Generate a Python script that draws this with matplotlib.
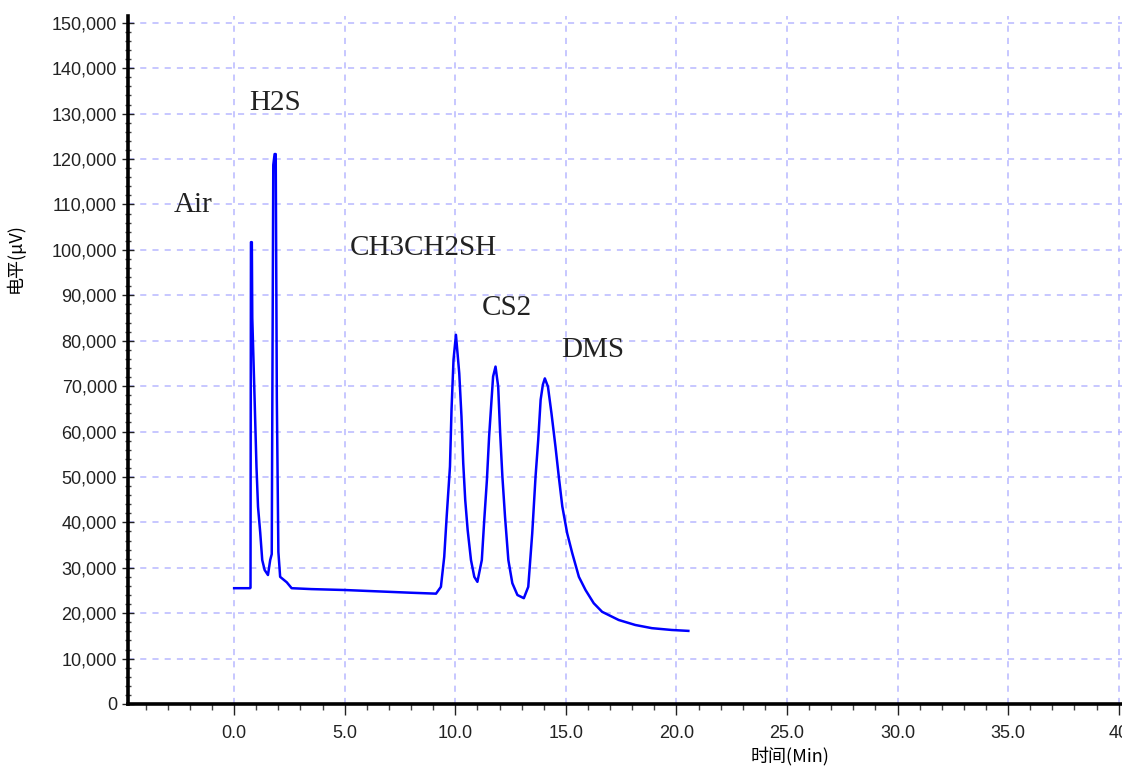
"""
Gas chromatogram of sulfur compounds (Air, H2S, CH3CH2SH, CS2, DMS).
Saved as out.png, 1122x770.
"""
import matplotlib
matplotlib.use("Agg")
import matplotlib.pyplot as plt
from matplotlib.ticker import MultipleLocator, FuncFormatter

# Chromatogram trace: time (min) and level (uV)
time_min = [
    0.00, 0.72, 0.74, 0.76, 0.80, 0.82, 0.93, 1.01, 1.08, 1.18, 1.27, 1.38,
    1.53, 1.63, 1.70, 1.77, 1.83, 1.88, 1.93, 2.00, 2.08, 2.38, 2.60, 3.50,
    5.00, 6.50, 8.00, 9.13, 9.35, 9.50, 9.61, 9.76, 9.83, 9.92, 10.03, 10.18,
    10.28, 10.36, 10.45, 10.56, 10.71, 10.86, 11.00, 11.20, 11.31, 11.43,
    11.53, 11.64, 11.71, 11.82, 11.94, 12.03, 12.13, 12.25, 12.40, 12.58,
    12.81, 13.10, 13.30, 13.48, 13.63, 13.75, 13.86, 13.96, 14.05, 14.19,
    14.35, 14.53, 14.68, 14.84, 15.06, 15.29, 15.59, 15.89, 16.26, 16.64,
    17.39, 18.14, 18.89, 19.79, 20.54,
]
level_uv = [
    25500, 25500, 25600, 101700, 101700, 85000, 66300, 52200, 43400, 37700,
    31700, 29500, 28400, 31700, 33000, 118700, 121100, 121100, 67400, 33500,
    28000, 26800, 25500, 25300, 25100, 24800, 24500, 24300, 25800, 32400,
    41200, 52300, 64800, 75800, 81300, 72800, 63300, 53000, 44900, 38300,
    31700, 28000, 26900, 31700, 40500, 49300, 58900, 67000, 72100, 74300,
    69900, 59600, 50100, 41200, 31700, 26600, 24000, 23300, 25800, 37600,
    50100, 58100, 67000, 70300, 71700, 69900, 64000, 56700, 50100, 43500,
    37600, 33200, 28000, 25100, 22200, 20300, 18500, 17400, 16700, 16300,
    16100,
]

# Peak labels (name, time, level)
peak_names = ["Air", "H2S", "CH3CH2SH", "CS2", "DMS"]
peak_x = [-1.85, 1.85, 8.56, 12.34, 16.2]
peak_y = [109900, 132400, 100400, 87200, 78000]

GRID = "#b8b8ff"
TRACE = "#0000ff"
CJK = ["Noto Sans CJK SC", "DejaVu Sans"]

fig = plt.figure(figsize=(11.22, 7.70), dpi=100, facecolor="white")
ax = fig.add_axes([128 / 1122, 66 / 770, 1 - 128 / 1122, 688 / 770])

ax.plot(time_min, level_uv, color=TRACE, lw=1.8, zorder=3)

for name, x, y in zip(peak_names, peak_x, peak_y):
    ax.text(x, y, name, ha="center", va="center", fontsize=21,
            family="Liberation Serif", color="#222222")

ax.set_xlim(-4.8, 40.15)
ax.set_ylim(0, 151500)

ax.xaxis.set_major_locator(MultipleLocator(5))
ax.xaxis.set_minor_locator(MultipleLocator(1))
ax.yaxis.set_major_locator(MultipleLocator(10000))
ax.yaxis.set_minor_locator(MultipleLocator(2000))
ax.xaxis.set_major_formatter(FuncFormatter(lambda v, p: f"{v:.1f}" if v < 40 else "40"))
ax.yaxis.set_major_formatter(FuncFormatter(lambda v, p: f"{int(v):,}"))

ax.grid(True, which="major", color=GRID, ls=(0, (4, 4)), lw=1.1, zorder=0)

for s in ("top", "right"):
    ax.spines[s].set_visible(False)
for s in ("left", "bottom"):
    ax.spines[s].set_linewidth(2.6)
    ax.spines[s].set_color("black")

ax.tick_params(axis="y", which="major", direction="inout", length=9, width=1,
               labelsize=13, colors="#222222")
ax.tick_params(axis="y", which="minor", direction="inout", length=4, width=1,
               colors="#444444")
ax.tick_params(axis="x", which="major", direction="out", length=8, width=1,
               labelsize=13, pad=7, colors="#222222")
ax.tick_params(axis="x", which="minor", direction="out", length=4, width=1,
               colors="#444444")
for lab in ax.get_xticklabels() + ax.get_yticklabels():
    lab.set_family("Liberation Sans")

ax.set_ylabel("电平(μV)", family=CJK, fontsize=13, color="black")
ax.yaxis.set_label_coords(-0.104, 0.648)
ax.set_xlabel("时间(Min)", family=CJK, fontsize=13, color="black")
ax.xaxis.set_label_coords(0.666, -0.062)

fig.savefig("out.png", dpi=100, facecolor="white")
